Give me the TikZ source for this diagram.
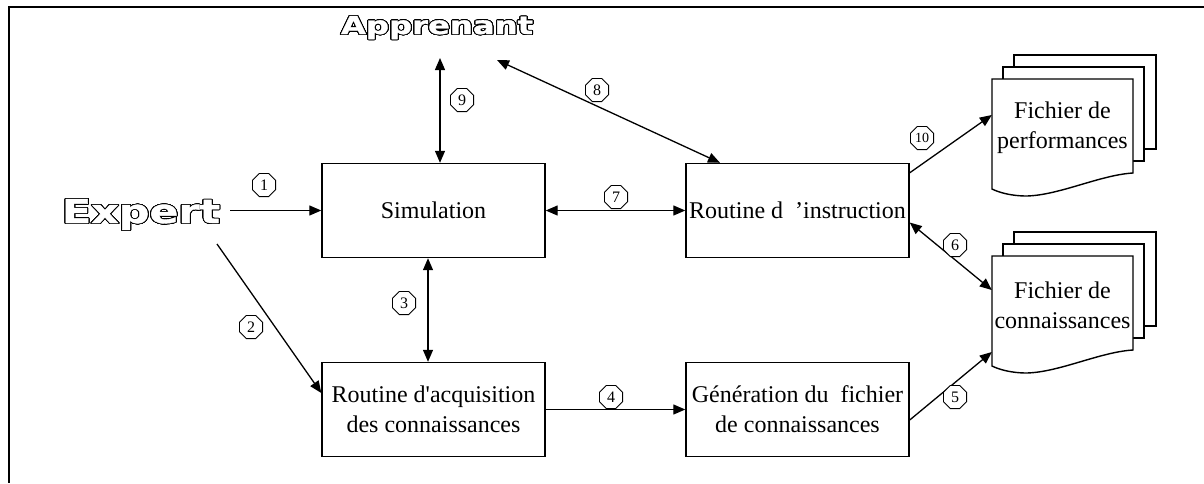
\documentclass[tikz,border=0pt]{standalone}
\usepackage{fontspec}
\setmainfont{Liberation Serif}
\newfontfamily\heavyfont{DejaVu Sans}[FakeBold=1.2]
\usepackage[copies]{contour}
\usetikzlibrary{shapes.geometric,arrows.meta}
\contourlength{0.75pt}
\contournumber{32}
\begin{document}
\begin{tikzpicture}[x=1pt,y=-1pt,
  box/.style={draw,line width=1.4pt,minimum width=223pt,minimum height=94pt,align=center,font=\fontsize{24}{30}\selectfont,inner sep=0pt},
  tip/.tip={Triangle[length=12pt,width=10pt]},
  conn/.style={line width=1.3pt,-tip},
  dconn/.style={line width=1.3pt,tip-tip},
  oct/.style={regular polygon,regular polygon sides=8,draw,line width=0.9pt,minimum size=25pt,inner sep=0pt,font=\fontsize{16}{16}\selectfont,fill=white},
  page/.style={draw,line width=1.4pt,fill=white},
  doctext/.style={minimum width=141pt,minimum height=94pt,inner sep=0pt,align=center,font=\fontsize{24}{30}\selectfont},
  big/.style={inner sep=0pt,anchor=base}
]
\useasboundingbox (0,0) rectangle (1204,483);
% frame
\draw[line width=2pt] (8,7) -- (1204,7);
\draw[line width=2pt] (9,6) -- (9,483);

% actors
\node[big] (app) at (437,34) {\resizebox{192pt}{18pt}{\fontsize{24}{24}\heavyfont\bfseries\contour{black}{\textcolor{white}{Apprenant}}}};
\node[big] (exp) at (141,223) {\resizebox{158pt}{24pt}{\fontsize{33}{33}\heavyfont\bfseries\contour{black}{\textcolor{white}{Expert}}}};

% boxes
\node[box] (sim) at (433.5,210.5) {Simulation};
\node[box] (acq) at (433.5,409.5) {Routine d\textquotesingle acquisition\\des connaissances};
\node[box] (ins) at (797.5,210.5) {Routine d\enspace’instruction};
\node[box] (gen) at (797.5,409.5) {Génération du\enspace fichier\\de connaissances};

% document stacks
\draw[page] (1014,55) rectangle (1156,149);
\draw[page] (1003,67) rectangle (1144,161);
\draw[page] (992,79) -- (1133,79) -- (1133,173) .. controls (1100,175) and (1060,195) .. (1027,196) .. controls (1010,196) and (998,192) .. (992,189) -- cycle;
\node[doctext] (perf) at (1062.5,128) {Fichier de\\performances};

\draw[page] (1014,232) rectangle (1156,326);
\draw[page] (1003,244) rectangle (1144,338);
\draw[page] (992,256) -- (1133,256) -- (1133,350) .. controls (1100,352) and (1060,372) .. (1027,373) .. controls (1010,373) and (998,369) .. (992,366) -- cycle;
\node[doctext] (con) at (1062.5,305) {Fichier de\\connaissances};

% free ends
\coordinate (e1) at (230,210.5);
\coordinate (e2) at (217,244);
\coordinate (appA) at (440,58);
\coordinate (appB) at (497,60);

% connectors
\draw[conn] (e1) -- (e1 -| sim.west);
\draw[conn] (e2) -- ([yshift=16.5pt]acq.west);
\draw[dconn] ([xshift=-5.5pt]sim.south) -- ([xshift=-5.5pt]acq.north);
\draw[conn] (acq.east) -- (gen.west);
\draw[conn] ([yshift=-10.5pt]gen.east) -- ([yshift=-47pt]con.west);
\draw[dconn] ([yshift=-12pt]ins.east) -- ([yshift=15pt]con.west);
\draw[dconn] (sim.east) -- (ins.west);
\draw[dconn] (appB) -- ([xshift=-77.5pt]ins.north);
\draw[dconn] (appA) -- (appA |- sim.north);
\draw[conn] ([yshift=-10pt]ins.north east) -- ([yshift=13pt]perf.west);

% labels
\node[oct] (l1) at (264,185) {1};
\node[oct] (l2) at (251,327) {2};
\node[oct] (l3) at (404,303) {3};
\node[oct] (l4) at (611,397) {4};
\node[oct] (l5) at (955,397) {5};
\node[oct] (l6) at (955,245) {6};
\node[oct] (l7) at (616,197) {7};
\node[oct] (l8) at (597,90) {8};
\node[oct] (l9) at (462,100) {9};
\node[oct,font=\fontsize{14}{14}\selectfont] (l10) at (922,138) {10};
\end{tikzpicture}
\end{document}
